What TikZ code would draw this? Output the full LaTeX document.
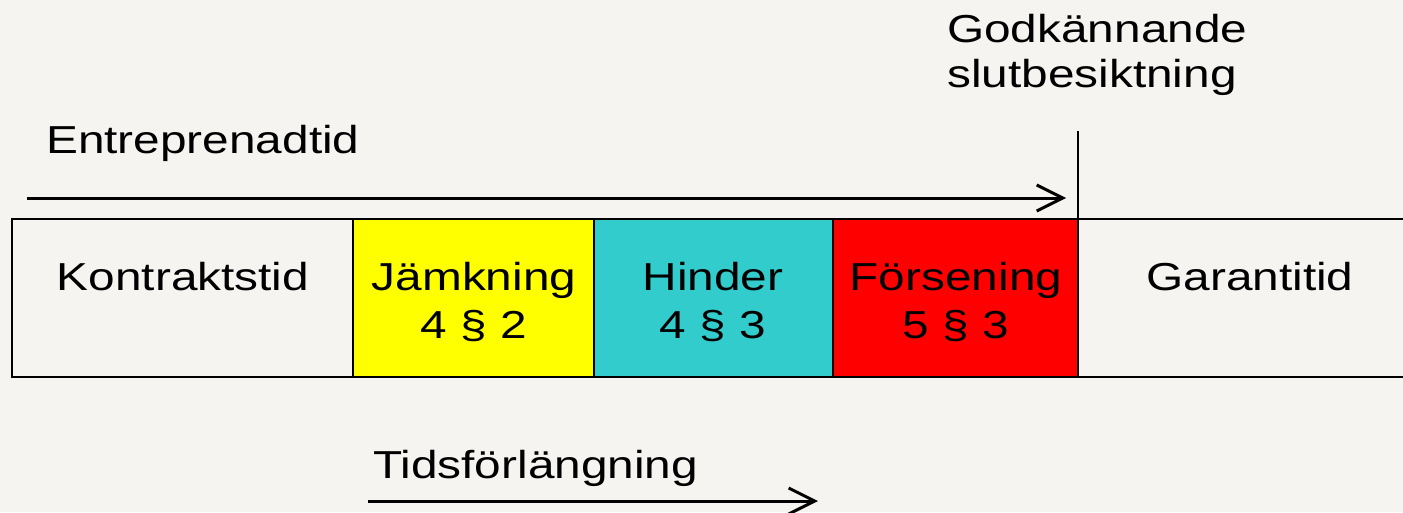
\documentclass[tikz,border=0pt]{standalone}
\usepackage{fontspec}
\setmainfont{Liberation Sans}[FakeStretch=1.225]
\usetikzlibrary{arrows.meta}
\definecolor{bg}{HTML}{F5F4F0}
\definecolor{tealc}{HTML}{33CCCC}
\definecolor{yel}{HTML}{FFFF00}
\begin{document}
\begin{tikzpicture}[x=1pt,y=-1pt,
  cell/.style={draw=black, line width=1.8pt, anchor=north west, minimum height=158pt, inner sep=0pt, outer sep=0pt},
  lbl/.style={font=\fontsize{39}{40}\selectfont, inner sep=0pt, anchor=base},
  lblw/.style={font=\fontsize{39}{40}\selectfont, inner sep=0pt, anchor=base west},
  arr/.style={line width=3pt, -{Straight Barb[length=26pt,width=26pt,line width=3pt]}}]
\fill[bg] (0,0) rectangle (1403,512);
\useasboundingbox (0,0) rectangle (1403,512);
% cells
\node[cell, fill=bg, minimum width=341pt] (kon) at (12,219) {};
\node[cell, fill=yel, minimum width=241pt] (jam) at (353,219) {};
\node[cell, fill=tealc, minimum width=239pt] (hin) at (594,219) {};
\node[cell, fill=red, minimum width=245pt] (for) at (833,219) {};
\node[cell, fill=bg, minimum width=360pt] (gar) at (1078,219) {};
% cell texts
\node[lbl] (konT) at (183,290) {Kontraktstid};
\node[lbl] (jamT) at (474,290) {Jämkning};
\node[lbl] (jamN) at (474,338) {4 § 2};
\node[lbl] (hinT) at (713,290) {Hinder};
\node[lbl] (hinN) at (713,338) {4 § 3};
\node[lbl] (forT) at (956,290) {Försening};
\node[lbl] (forN) at (956,338) {5 § 3};
\node[lbl] (garT) at (1250,290) {Garantitid};
% top labels
\node[lblw] (ent) at (46,153) {Entreprenadtid};
\node[lblw] (god1) at (947,42) {Godkännande};
\node[lblw] (god2) at (947,87) {slutbesiktning};
\node[lblw] (tid) at (373,478) {Tidsförlängning};
% arrows
\coordinate (ea) at (27,198);
\coordinate (eb) at (1066,198);
\draw[arr] (ea) -- (eb);
\coordinate (ta) at (368,501);
\coordinate (tb) at (818,501);
\draw[arr] (ta) -- (tb);
% milestone line
\coordinate (mtop) at (1078,131);
\draw[line width=1.5pt] (gar.north west) -- (mtop);
\end{tikzpicture}
\end{document}
